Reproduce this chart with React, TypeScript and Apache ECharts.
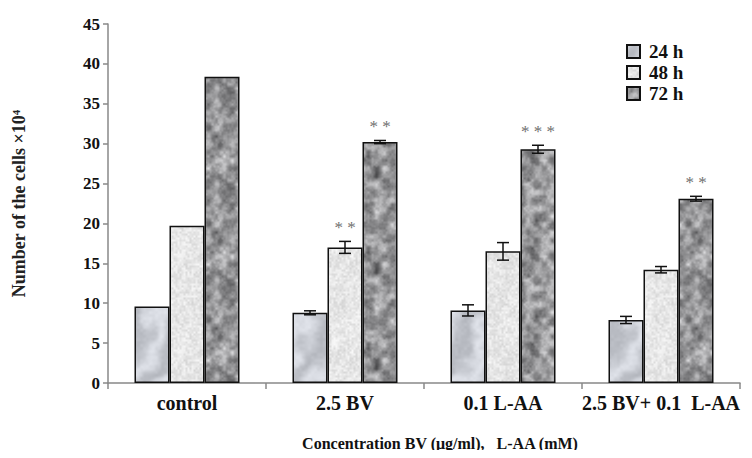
import React, { useEffect, useRef } from 'react';
import * as echarts from 'echarts';

const categories = ['control', '2.5 BV', '0.1 L-AA', '2.5 BV+ 0.1  L-AA'];
const seriesNames = ['24 h', '48 h', '72 h'];
const h24 = [9.6, 8.8, 9.1, 7.9];
const h48 = [19.7, 17.0, 16.5, 14.2];
const h72 = [38.4, 30.2, 29.3, 23.1];
const err24 = [0, 0.25, 0.7, 0.45];
const err48 = [0, 0.75, 1.1, 0.4];
const err72 = [0, 0.2, 0.5, 0.3];
const stars24 = ['', '', '', ''];
const stars48 = ['', '* *', '', ''];
const stars72 = ['', '* *', '* * *', '* *'];
const yTicks = { min: 0, max: 45, interval: 5 };

const FONT = '"Liberation Serif", "Times New Roman", serif';

function hash(x: number, y: number, s: number) {
  let h = (x * 374761393 + y * 668265263 + s * 982451653) | 0;
  h = Math.imul(h ^ (h >>> 13), 1274126177);
  h = h ^ (h >>> 16);
  return ((h >>> 0) % 10000) / 10000;
}

function noise(x: number, y: number, cell: number, seed: number, size: number) {
  const n = Math.round(size / cell);
  const gx = x / cell;
  const gy = y / cell;
  const x0 = Math.floor(gx);
  const y0 = Math.floor(gy);
  const fx = gx - x0;
  const fy = gy - y0;
  const sx = fx * fx * (3 - 2 * fx);
  const sy = fy * fy * (3 - 2 * fy);
  const w = (a: number) => ((a % n) + n) % n;
  const a = hash(w(x0), w(y0), seed);
  const b = hash(w(x0 + 1), w(y0), seed);
  const c = hash(w(x0), w(y0 + 1), seed);
  const d = hash(w(x0 + 1), w(y0 + 1), seed);
  return (a * (1 - sx) + b * sx) * (1 - sy) + (c * (1 - sx) + d * sx) * sy;
}

function makeTexture(kind: number): HTMLCanvasElement {
  const size = 96;
  const cv = document.createElement('canvas');
  cv.width = size;
  cv.height = size;
  const ctx = cv.getContext('2d')!;
  const img = ctx.createImageData(size, size);
  for (let y = 0; y < size; y++) {
    for (let x = 0; x < size; x++) {
      let r = 0, g = 0, b = 0;
      if (kind === 0) {
        const n = noise(x, y, 24, 1, size) * 0.6 + noise(x, y, 12, 2, size) * 0.4;
        const v = Math.sin(((x + y * 0.5) / size) * Math.PI * 4 + n * 7);
        const base = 208 + v * 18 + (noise(x, y, 3, 3, size) - 0.5) * 10;
        r = base - 6; g = base - 3; b = base + 4;
      } else if (kind === 1) {
        const base = 230 + (noise(x, y, 2, 4, size) - 0.5) * 28 + (noise(x, y, 8, 5, size) - 0.5) * 12;
        r = base; g = base; b = base;
      } else {
        const n = noise(x, y, 8, 6, size) * 0.55 + noise(x, y, 4, 7, size) * 0.3 + noise(x, y, 2, 8, size) * 0.15;
        const base = 70 + n * 160;
        r = base; g = base; b = base + 2;
      }
      const i = (y * size + x) * 4;
      img.data[i] = Math.max(0, Math.min(255, r));
      img.data[i + 1] = Math.max(0, Math.min(255, g));
      img.data[i + 2] = Math.max(0, Math.min(255, b));
      img.data[i + 3] = 255;
    }
  }
  ctx.putImageData(img, 0, 0);
  return cv;
}

export default function App() {
  const ref = useRef<HTMLDivElement>(null);
  useEffect(() => {
    if (!ref.current) return;
    const chart = echarts.init(ref.current, undefined, { renderer: 'svg' });
    const values = [h24, h48, h72];
    const errs = [err24, err48, err72];
    const stars = [stars24, stars48, stars72];
    const barW = 35;
    const textures = [makeTexture(0), makeTexture(1), makeTexture(2)];

    const barSeries = seriesNames.map((name, si) => ({
      name,
      type: 'bar',
      data: values[si],
      barWidth: barW,
      barGap: '0%',
      itemStyle: {
        color: { image: textures[si], repeat: 'repeat' },
        borderColor: '#111',
        borderWidth: 1.5,
      },
      z: 2,
    }));

    const errSeries = seriesNames.map((name, si) => ({
      type: 'custom',
      name: name + ' err',
      data: categories.map((_, ci) => [ci, values[si][ci], errs[si][ci]]),
      z: 5,
      renderItem: (params: any, api: any) => {
        const ci = api.value(0);
        const v = api.value(1);
        const e = api.value(2);
        const base = api.coord([ci, v]);
        const cx = base[0] + (si - 1) * barW;
        const top = api.coord([ci, v + e])[1];
        const bot = api.coord([ci, v - e])[1];
        const children: any[] = [];
        if (e > 0) {
          const st = { stroke: '#111', lineWidth: 1.5 };
          children.push({ type: 'line', shape: { x1: cx, y1: top, x2: cx, y2: bot }, style: st });
          children.push({ type: 'line', shape: { x1: cx - 6, y1: top, x2: cx + 6, y2: top }, style: st });
          children.push({ type: 'line', shape: { x1: cx - 6, y1: bot, x2: cx + 6, y2: bot }, style: st });
        }
        const s = stars[si][params.dataIndex];
        if (s) {
          children.push({
            type: 'text',
            style: {
              x: cx,
              y: top - 5,
              text: s,
              fill: '#707070',
              font: '17px ' + FONT,
              align: 'center',
              verticalAlign: 'bottom',
            },
          });
        }
        return { type: 'group', children };
      },
    }));

    chart.setOption({
      animation: false,
      backgroundColor: '#fff',
      grid: { left: 108, right: 12, top: 24, bottom: 75, containLabel: false },
      legend: {
        data: seriesNames,
        orient: 'vertical',
        left: 621,
        top: 37,
        itemWidth: 13,
        itemHeight: 13,
        itemGap: 2,
        icon: 'rect',
        textStyle: { fontFamily: FONT, fontWeight: 'bold', fontSize: 19, color: '#111', padding: [0, 0, 0, 4] },
      },
      xAxis: {
        type: 'category',
        data: categories,
        axisLine: { lineStyle: { color: '#888', width: 1.5 } },
        axisTick: { show: true, length: 6, lineStyle: { color: '#888', width: 1.5 } },
        axisLabel: {
          interval: 0,
          hideOverlap: false,
          fontFamily: FONT,
          fontWeight: 'bold',
          fontSize: 20,
          color: '#111',
          margin: 10,
        },
      },
      yAxis: {
        type: 'value',
        min: yTicks.min,
        max: yTicks.max,
        interval: yTicks.interval,
        name: 'Number of the cells ×10⁴',
        nameLocation: 'middle',
        nameRotate: 90,
        nameGap: 80,
        nameTextStyle: { fontFamily: FONT, fontWeight: 'bold', fontSize: 18, color: '#222' },
        axisLine: { show: true, lineStyle: { color: '#888', width: 1.5 } },
        axisTick: { show: true, length: 5, lineStyle: { color: '#888', width: 1.5 } },
        splitLine: { show: false },
        axisLabel: { fontFamily: FONT, fontWeight: 'bold', fontSize: 17, color: '#111', margin: 8 },
      },
      graphic: [
        {
          type: 'text',
          x: 440,
          y: 443,
          style: {
            text: 'Concentration BV (μg/ml),   L-AA (mM)',
            font: 'bold 16px ' + FONT,
            fill: '#111',
            align: 'center',
            verticalAlign: 'middle',
          },
        },
      ],
      series: [...barSeries, ...errSeries],
    });
    return () => chart.dispose();
  }, []);
  return <div ref={ref} style={{ width: 752, height: 458, margin: -8 }} />;
}
